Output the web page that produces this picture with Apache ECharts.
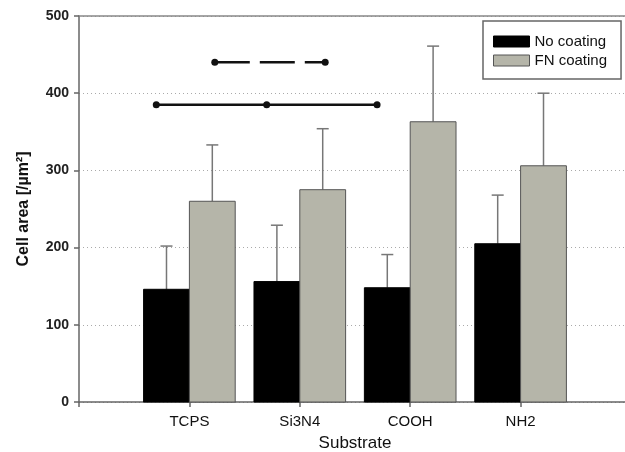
<!DOCTYPE html>
<html>
<head>
<meta charset="utf-8">
<script src="https://cdn.jsdelivr.net/npm/echarts@6/dist/echarts.min.js"></script>
<style>
html,body{margin:0;padding:0;background:#fff;}
#c{width:625px;height:452px;}
</style>
</head>
<body>
<div id="c"></div>
<script>
const categories = ['TCPS', 'Si3N4', 'COOH', 'NH2'];
const noCoating = [146, 156, 148, 205];
const noCoatingSD = [56, 73, 43, 63];
const fnCoating = [260, 275, 363, 306];
const fnCoatingSD = [73, 79, 98, 94];
const yTicks = [0, 100, 200, 300, 400, 500];
// significance brackets: category positions (1-based), offset, level
const sigSolid = { points: [1, 2, 3], offset: -0.3, level: 385 };
const sigDashed = { points: [1, 2], offset: 0.23, level: 440 };

const FONT = 'Liberation Sans, Arial, sans-serif';
const BAR_FRAC = 0.415;
const CAP = 12;

function makeData(vals, sd) {
  return vals.map((v, i) => [i + 1, v, sd[i]]);
}

function barRenderer(side) {
  return function (params, api) {
    const x = api.value(0), v = api.value(1), sd = api.value(2);
    const w = api.size([BAR_FRAC, 0])[0];
    const base = api.coord([x, 0]);
    const top = api.coord([x, v]);
    const errTop = api.coord([x, v + sd]);
    const left = side < 0 ? base[0] - w : base[0];
    const cx = left + w / 2;
    const color = api.visual('color');
    return {
      type: 'group',
      children: [
        {
          type: 'line',
          shape: { x1: cx, y1: top[1], x2: cx, y2: errTop[1] },
          style: { stroke: '#777', lineWidth: 1.5 }
        },
        {
          type: 'line',
          shape: { x1: cx - CAP / 2, y1: errTop[1], x2: cx + CAP / 2, y2: errTop[1] },
          style: { stroke: '#777', lineWidth: 1.5 }
        },
        {
          type: 'rect',
          shape: { x: left, y: top[1], width: w, height: base[1] - top[1] },
          style: { fill: color, stroke: side < 0 ? '#000' : '#555', lineWidth: 1 }
        }
      ]
    };
  };
}

function sigLine(sig, dashed) {
  return {
    type: 'line',
    data: sig.points.map(p => [p + sig.offset, sig.level]),
    symbol: 'circle',
    symbolSize: 7,
    itemStyle: { color: '#111' },
    lineStyle: { color: '#111', width: 2.5, type: dashed ? [35, 10] : 'solid' },
    silent: true,
    z: 5
  };
}

const chart = echarts.init(document.getElementById('c'), null, { renderer: 'canvas' });
chart.setOption({
  animation: false,
  backgroundColor: '#fff',
  grid: { left: 79, top: 16, right: -6, bottom: 50, outerBoundsMode: 'none', containLabel: false },
  legend: {
    orient: 'vertical',
    left: 483,
    top: 21,
    data: [
      { name: 'No coating', itemStyle: { color: '#000', borderColor: '#000', borderWidth: 1 } },
      { name: 'FN coating', itemStyle: { color: '#b5b5a9', borderColor: '#555', borderWidth: 1 } }
    ],
    icon: 'rect',
    itemWidth: 36,
    itemHeight: 11,
    itemGap: 4,
    padding: [13, 14, 11, 10],
    borderColor: '#666',
    borderWidth: 1.5,
    textStyle: { fontFamily: FONT, fontSize: 15, color: '#111', lineHeight: 15 }
  },
  xAxis: [
    {
      type: 'value',
      min: 0,
      max: 5,
      interval: 1,
      name: 'Substrate',
      nameLocation: 'middle',
      nameGap: 33,
      nameTextStyle: { fontFamily: FONT, fontSize: 17, color: '#111' },
      axisLine: { lineStyle: { color: '#666', width: 1.5 } },
      axisTick: { show: true, length: 5, lineStyle: { color: '#666', width: 1.5 } },
      axisLabel: {
        fontFamily: FONT, fontSize: 15, color: '#111', margin: 12,
        formatter: v => (Number.isInteger(v) && categories[v - 1]) ? categories[v - 1] : ''
      },
      splitLine: { show: false }
    },
    {
      type: 'value',
      position: 'top',
      min: 0,
      max: 5,
      interval: 1,
      axisLine: { show: true, lineStyle: { color: '#888', width: 1.5 } },
      axisTick: { show: false },
      axisLabel: { show: false },
      splitLine: { show: false }
    }
  ],
  yAxis: {
    type: 'value',
    min: yTicks[0],
    max: yTicks[yTicks.length - 1],
    interval: yTicks[1] - yTicks[0],
    name: 'Cell area [/µm²]',
    nameLocation: 'middle',
    nameGap: 47,
    nameTextStyle: { fontFamily: FONT, fontSize: 16, fontWeight: 'bold', color: '#111' },
    axisLine: { show: true, lineStyle: { color: '#666', width: 1.5 } },
    axisTick: { show: true, length: 5, lineStyle: { color: '#666', width: 1.5 } },
    axisLabel: { fontFamily: FONT, fontSize: 14, fontWeight: 'bold', color: '#222', margin: 10 },
    splitLine: { show: true, lineStyle: { color: '#aaa', width: 1, type: [1, 3] } }
  },
  series: [
    {
      name: 'No coating',
      type: 'custom',
      renderItem: barRenderer(-1),
      data: makeData(noCoating, noCoatingSD),
      itemStyle: { color: '#000' },
      encode: { x: 0, y: 1 },
      z: 3
    },
    {
      name: 'FN coating',
      type: 'custom',
      renderItem: barRenderer(1),
      data: makeData(fnCoating, fnCoatingSD),
      itemStyle: { color: '#b5b5a9' },
      encode: { x: 0, y: 1 },
      z: 3
    },
    sigLine(sigSolid, false),
    sigLine(sigDashed, true)
  ]
});
</script>
</body>
</html>
